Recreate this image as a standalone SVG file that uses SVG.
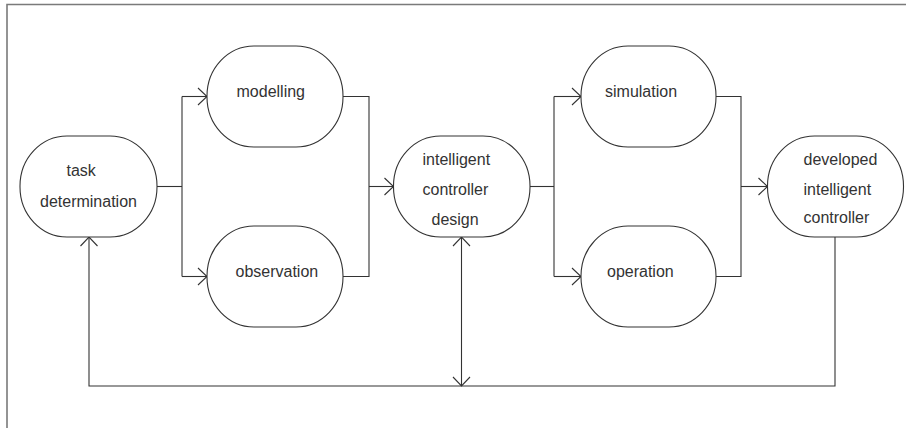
<svg xmlns="http://www.w3.org/2000/svg" width="906" height="428" viewBox="0 0 906 428">
  <style>
    .node { fill: #ffffff; stroke: #333333; stroke-width: 1.1; }
    .label { font-family: "Liberation Sans", Arial, sans-serif; font-size: 16px; fill: #333333; }
    .wire { fill: none; stroke: #333333; stroke-width: 1.1; }
    .frame { fill: none; stroke: #7a7a7a; stroke-width: 1.6; }
  </style>
  <defs>
    <marker id="arrow" viewBox="-10 -10 20 20" markerWidth="20" markerHeight="20" refX="0" refY="0" orient="auto" markerUnits="userSpaceOnUse">
      <path d="M-9,-8.5 L0,0 L-9,8.5" fill="none" stroke="#333333" stroke-width="1.1"/>
    </marker>
    <marker id="arrow-start" viewBox="-10 -10 20 20" markerWidth="20" markerHeight="20" refX="0" refY="0" orient="auto-start-reverse" markerUnits="userSpaceOnUse">
      <path d="M-9,-8.5 L0,0 L-9,8.5" fill="none" stroke="#333333" stroke-width="1.1"/>
    </marker>
  </defs>

  <rect width="906" height="428" fill="#ffffff"/>

  <!-- outer frame: top and left edges only -->
  <path class="frame" d="M7,428 L7,4.5 L906,4.5"/>

  <!-- connectors -->
  <g id="connectors">
    <!-- task determination fans out to modelling / observation -->
    <path class="wire" d="M157,186.5 L182,186.5"/>
    <path class="wire" d="M182,96.5 L182,276.5"/>
    <path class="wire" d="M182,96.5 L207,96.5" marker-end="url(#arrow)"/>
    <path class="wire" d="M182,276.5 L207,276.5" marker-end="url(#arrow)"/>

    <!-- modelling / observation merge into controller design -->
    <path class="wire" d="M343,96.5 L369,96.5 L369,276.5 L343,276.5"/>
    <path class="wire" d="M369,186.5 L393.5,186.5" marker-end="url(#arrow)"/>

    <!-- controller design fans out to simulation / operation -->
    <path class="wire" d="M530,186.5 L554,186.5"/>
    <path class="wire" d="M554,96.5 L554,276.5"/>
    <path class="wire" d="M554,96.5 L581,96.5" marker-end="url(#arrow)"/>
    <path class="wire" d="M554,276.5 L581,276.5" marker-end="url(#arrow)"/>

    <!-- simulation / operation merge into developed controller -->
    <path class="wire" d="M716,96.5 L741,96.5 L741,276.5 L716,276.5"/>
    <path class="wire" d="M741,186.5 L767.5,186.5" marker-end="url(#arrow)"/>

    <!-- feedback loop along the bottom -->
    <path class="wire" d="M835,237 L835,386 L89,386 L89,237" marker-end="url(#arrow)"/>
    <path class="wire" d="M461.5,237 L461.5,386" marker-start="url(#arrow-start)" marker-end="url(#arrow)"/>
  </g>

  <!-- nodes -->
  <g id="task-determination">
    <rect class="node" x="20" y="136" width="137" height="101" rx="47" ry="50"/>
    <text class="label" x="66.5" y="176">task</text>
    <text class="label" x="40" y="206.5">determination</text>
  </g>

  <g id="modelling">
    <rect class="node" x="207" y="46" width="136" height="101" rx="47" ry="50"/>
    <text class="label" x="236.5" y="96.5">modelling</text>
  </g>

  <g id="observation">
    <rect class="node" x="207" y="226" width="136" height="101" rx="47" ry="50"/>
    <text class="label" x="235.5" y="276.5">observation</text>
  </g>

  <g id="controller-design">
    <rect class="node" x="393.5" y="136" width="136.5" height="101" rx="47" ry="50"/>
    <text class="label" x="422.5" y="165">intelligent</text>
    <text class="label" x="422.5" y="195">controller</text>
    <text class="label" x="431.5" y="225">design</text>
  </g>

  <g id="simulation">
    <rect class="node" x="581" y="46" width="135" height="101" rx="47" ry="50"/>
    <text class="label" x="605" y="96.5">simulation</text>
  </g>

  <g id="operation">
    <rect class="node" x="581" y="226" width="135" height="101" rx="47" ry="50"/>
    <text class="label" x="607" y="276.5">operation</text>
  </g>

  <g id="developed-controller">
    <rect class="node" x="767.5" y="136" width="136" height="101" rx="47" ry="50"/>
    <text class="label" x="803.5" y="165">developed</text>
    <text class="label" x="803.5" y="194.5">intelligent</text>
    <text class="label" x="803.5" y="223">controller</text>
  </g>
</svg>
